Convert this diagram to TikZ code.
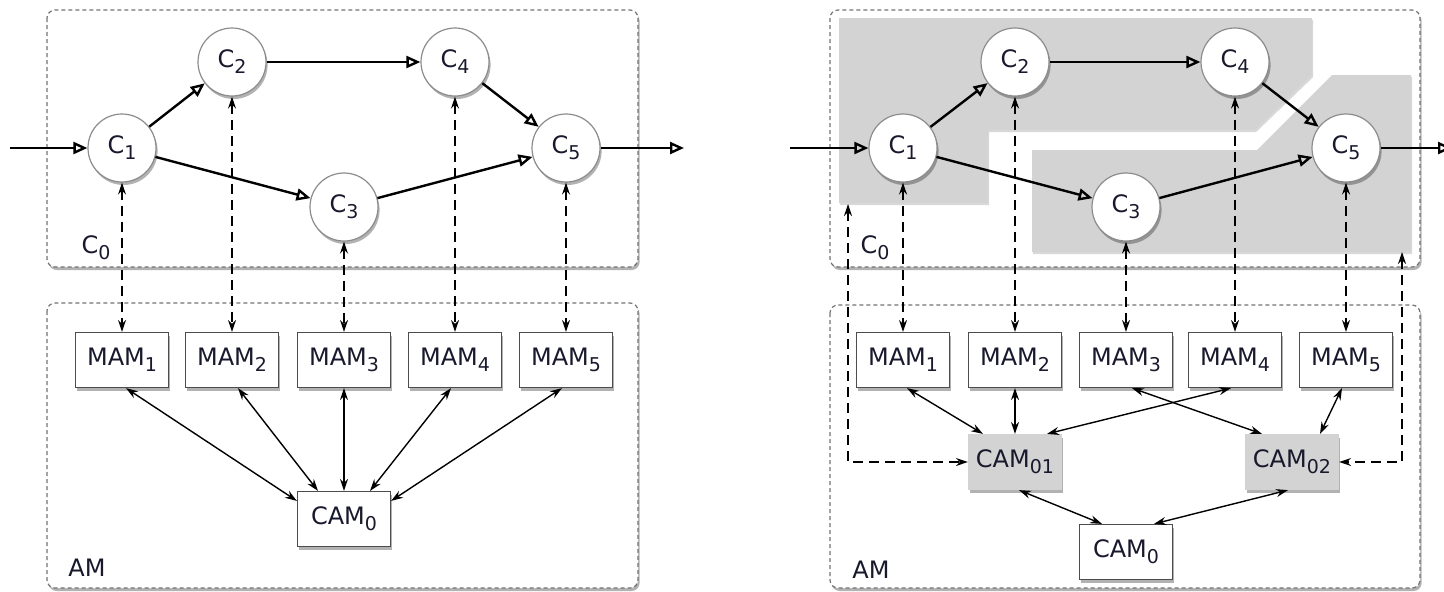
\documentclass[tikz,border=0pt]{standalone}
\usepackage{fontspec}
\setmainfont{DejaVu Sans}
\usetikzlibrary{arrows.meta,shadows}
\definecolor{regiongray}{RGB}{211,211,211}
\definecolor{txt}{RGB}{25,25,45}
\newcommand{\sbs}[1]{\raisebox{-0.45ex}{\fontsize{9.5}{10}\selectfont #1}}
\begin{document}
\begin{tikzpicture}[x=0.5pt,y=-0.5pt,
  font=\fontsize{12}{14}\selectfont, text=txt,
  shd/.style={drop shadow={shadow xshift=0.8pt,shadow yshift=-1.5pt,opacity=0.3,fill=black}},
  comp/.style={circle,draw=black!45,line width=0.6pt,fill=white,minimum size=34pt,inner sep=0pt,shd},
  mam/.style={rectangle,draw=black!70,line width=0.6pt,fill=white,minimum width=46.5pt,minimum height=27.5pt,inner sep=0pt,shd},
  cam/.style={mam,fill=regiongray,draw=regiongray},
  container/.style={draw=black!55,dash pattern=on 2pt off 1.5pt,line width=0.6pt,rounded corners=4pt,fill=white,shd},
  region/.style={fill=regiongray,drop shadow={shadow xshift=0.6pt,shadow yshift=-1pt,opacity=0.15,fill=black}},
  flow/.style={line width=1.2pt,-{Triangle[open,length=7pt,width=6pt]}},
  link/.style={line width=0.8pt,dash pattern=on 5pt off 3pt,{Stealth[length=6pt,width=4pt,inset=2pt]}-{Stealth[length=6pt,width=4pt,inset=2pt]}},
  assoc/.style={line width=0.7pt,{Stealth[length=6pt,width=4pt,inset=2pt]}-{Stealth[length=6pt,width=4pt,inset=2pt]}},
  lbl/.style={inner sep=0pt}
]
\useasboundingbox (0,0) rectangle (1444,591);
\clip (0,0) rectangle (1444,591);

% ---------------- containers ----------------
\draw[container] (47,10) rectangle (638,267);
\draw[container] (47,303) rectangle (638,588);
\draw[container] (830,10) rectangle (1420,267);
\draw[container] (830,305) rectangle (1420,588);

% ---------------- gray regions (right) ----------------
\fill[region] (839,18) -- (1312,18) -- (1312,75) -- (1255,130) -- (988,130) -- (988,203) -- (839,203) -- cycle;
\fill[region] (1032,150) -- (1257,150) -- (1332,75) -- (1411,75) -- (1411,252) -- (1032,252) -- cycle;

% ---------------- left panel nodes ----------------
\node[comp] (c1) at (122,148) {C\sbs{1}};
\node[comp] (c2) at (232,62) {C\sbs{2}};
\node[comp] (c3) at (344,207) {C\sbs{3}};
\node[comp] (c4) at (455,62) {C\sbs{4}};
\node[comp] (c5) at (566,148) {C\sbs{5}};
\node[mam] (m1) at (122,360) {MAM\sbs{1}};
\node[mam] (m2) at (232,360) {MAM\sbs{2}};
\node[mam] (m3) at (344,360) {MAM\sbs{3}};
\node[mam] (m4) at (455,360) {MAM\sbs{4}};
\node[mam] (m5) at (566,360) {MAM\sbs{5}};
\node[mam] (cam) at (344,519) {CAM\sbs{0}};
\node[lbl] (c0) at (96,248) {C\sbs{0}};
\node[lbl] (am) at (87,568) {AM};
\coordinate (inL) at (10,148);
\coordinate (outL) at (684,148);

% ---------------- right panel nodes ----------------
\node[comp] (rc1) at (903,148) {C\sbs{1}};
\node[comp] (rc2) at (1015,62) {C\sbs{2}};
\node[comp] (rc3) at (1126,207) {C\sbs{3}};
\node[comp] (rc4) at (1235,62) {C\sbs{4}};
\node[comp] (rc5) at (1346,148) {C\sbs{5}};
\node[mam] (rm1) at (903,360) {MAM\sbs{1}};
\node[mam] (rm2) at (1015,360) {MAM\sbs{2}};
\node[mam] (rm3) at (1126,360) {MAM\sbs{3}};
\node[mam] (rm4) at (1235,360) {MAM\sbs{4}};
\node[mam] (rm5) at (1346,360) {MAM\sbs{5}};
\node[cam] (cam1) at (1015,462) {CAM\sbs{01}};
\node[cam] (cam2) at (1292,462) {CAM\sbs{02}};
\node[mam] (rcam) at (1126,552) {CAM\sbs{0}};
\node[lbl] (rc0) at (875,248) {C\sbs{0}};
\node[lbl] (ram) at (871,570) {AM};
\coordinate (inR) at (790,148);
\coordinate (outR) at (1452,148);
\coordinate (gA) at (848,204);
\coordinate (gB) at (1402,252);

% ---------------- left connectors ----------------
\draw[flow] (inL) -- (c1);
\draw[flow] (c1) -- (c2);
\draw[flow] (c1) -- (c3);
\draw[flow] (c2) -- (c4);
\draw[flow] (c4) -- (c5);
\draw[flow] (c3) -- (c5);
\draw[flow] (c5) -- (outL);
\foreach \i in {1,...,5} {\draw[link] (c\i.south) -- (m\i.north);}
\draw[assoc] ([xshift=2pt]m1.south) -- (cam.159);
\draw[assoc] ([xshift=3pt]m2.south) -- ([xshift=-13pt]cam.north);
\draw[assoc] (m3.south) -- (cam.north);
\draw[assoc] ([xshift=-2pt]m4.south) -- ([xshift=13pt]cam.north);
\draw[assoc] ([xshift=-2pt]m5.south) -- (cam.21);

% ---------------- right connectors ----------------
\draw[flow] (inR) -- (rc1);
\draw[flow] (rc1) -- (rc2);
\draw[flow] (rc1) -- (rc3);
\draw[flow] (rc2) -- (rc4);
\draw[flow] (rc4) -- (rc5);
\draw[flow] (rc3) -- (rc5);
\draw[flow] (rc5) -- (outR);
\foreach \i in {1,...,5} {\draw[link] (rc\i.south) -- (rm\i.north);}
\draw[link] (gA) |- (cam1.west);
\draw[link] (gB) |- (cam2.east);
\draw[assoc] ([xshift=2pt]rm1.south) -- ([xshift=-16pt]cam1.north);
\draw[assoc] (rm2.south) -- (cam1.north);
\draw[assoc] ([xshift=-2pt]rm4.south) -- ([xshift=16pt]cam1.north);
\draw[assoc] ([xshift=3pt]rm3.south) -- ([xshift=-15pt]cam2.north);
\draw[assoc] ([xshift=-2pt]rm5.south) -- ([xshift=14pt]cam2.north);
\draw[assoc] ([xshift=2pt]cam1.south) -- ([xshift=-12pt]rcam.north);
\draw[assoc] ([xshift=-2pt]cam2.south) -- ([xshift=14pt]rcam.north);
\end{tikzpicture}
\end{document}
